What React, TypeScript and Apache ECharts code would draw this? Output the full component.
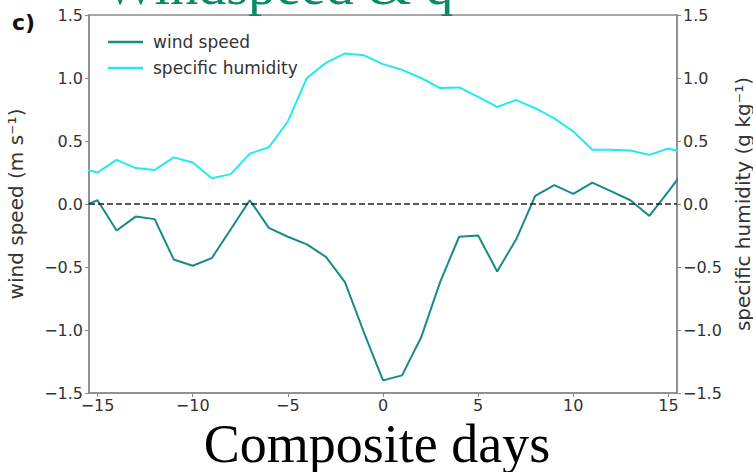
import React, { useEffect, useRef } from "react";
import * as echarts from "echarts";

const days = [-16, -15, -14, -13, -12, -11, -10, -9, -8, -7, -6, -5, -4, -3, -2, -1, 0, 1, 2, 3, 4, 5, 6, 7, 8, 9, 10, 11, 12, 13, 14, 15, 16];
const windSpeed = [-0.03, 0.03, -0.21, -0.1, -0.12, -0.44, -0.49, -0.43, -0.2, 0.03, -0.19, -0.26, -0.32, -0.42, -0.62, -1.02, -1.4, -1.36, -1.06, -0.62, -0.26, -0.25, -0.535, -0.28, 0.065, 0.15, 0.08, 0.17, 0.1, 0.03, -0.095, 0.1, 0.3];
const specificHumidity = [0.29, 0.25, 0.35, 0.285, 0.27, 0.37, 0.33, 0.205, 0.237, 0.4, 0.45, 0.655, 1.0, 1.12, 1.195, 1.18, 1.11, 1.065, 1.0, 0.92, 0.925, 0.85, 0.77, 0.825, 0.76, 0.68, 0.575, 0.43, 0.43, 0.425, 0.39, 0.44, 0.4];
const xTicks = [-15, -10, -5, 0, 5, 10, 15];

const fmt = (v: number) => (v < 0 ? "\u2212" : "") + Math.abs(v).toFixed(1);
const fmtInt = (v: number) => (v < 0 ? "\u2212" : "") + Math.abs(v).toString();

export default function App() {
  const ref = useRef<HTMLDivElement>(null);
  useEffect(() => {
    if (!ref.current) return;
    const chart = echarts.init(ref.current, undefined, { renderer: "svg" });
    const font = "DejaVu Sans";
    const axisCommon = {
      min: -1.5,
      max: 1.5,
      interval: 0.5,
      axisLine: { show: true, onZero: false, lineStyle: { color: "#8a8a8a", width: 1.5 } },
      axisTick: { show: true, length: 4, lineStyle: { color: "#8a8a8a", width: 1 } },
      splitLine: { show: false },
      nameLocation: "middle" as const,
      nameRotate: 90,
      nameTextStyle: { fontFamily: font, fontSize: 20, color: "#333" },
    };
    chart.setOption({
      animation: false,
      grid: {
        left: 89,
        right: 76,
        top: 15,
        bottom: 79,
        containLabel: false,
        outerBoundsMode: "none",
        show: true,
        borderColor: "#8a8a8a",
        borderWidth: 1.5,
      },
      legend: {
        orient: "vertical",
        left: 103,
        top: 28,
        itemWidth: 35,
        itemHeight: 2.5,
        itemGap: 8,
        icon: "rect",
        textStyle: { fontFamily: font, fontSize: 17, color: "#333", lineHeight: 18, padding: [0, 0, 0, 5] },
        data: ["wind speed", "specific humidity"],
      },
      xAxis: {
        type: "value",
        min: -15.45,
        max: 15.45,
        axisLine: { show: true, onZero: false, lineStyle: { color: "#8a8a8a", width: 1.5 } },
        axisTick: { show: true, length: 4, customValues: xTicks, lineStyle: { color: "#8a8a8a" } },
        axisLabel: {
          customValues: xTicks,
          formatter: (v: number) => fmtInt(v),
          fontFamily: font,
          fontSize: 16,
          color: "#333",
          margin: 4,
        },
        splitLine: { show: false },
      },
      yAxis: [
        {
          type: "value",
          position: "left",
          ...axisCommon,
          name: "wind speed (m s\u207B\u00B9)",
          nameGap: 63,
          axisLabel: { formatter: (v: number) => fmt(v), fontFamily: font, fontSize: 16, color: "#333", margin: 6 },
        },
        {
          type: "value",
          position: "right",
          ...axisCommon,
          name: "specific humidity (g kg\u207B\u00B9)",
          nameGap: 55,
          axisLabel: { formatter: (v: number) => fmt(v), fontFamily: font, fontSize: 16, color: "#333", margin: 6 },
        },
      ],
      series: [
        {
          name: "wind speed",
          type: "line",
          yAxisIndex: 0,
          data: days.map((d, i) => [d, windSpeed[i]]),
          symbol: "none",
          lineStyle: { color: "#178a8a", width: 2 },
          itemStyle: { color: "#178a8a" },
          z: 3,
          markLine: {
            silent: true,
            symbol: "none",
            label: { show: false },
            lineStyle: { color: "#222", width: 1.5, type: [6, 3] },
            data: [{ yAxis: 0 }],
          },
        },
        {
          name: "specific humidity",
          type: "line",
          yAxisIndex: 1,
          data: days.map((d, i) => [d, specificHumidity[i]]),
          symbol: "none",
          lineStyle: { color: "#22eaf0", width: 2 },
          itemStyle: { color: "#22eaf0" },
          z: 3,
        },
      ],
      graphic: [
        {
          type: "text",
          left: 12,
          top: 11,
          style: { text: "c)", font: 'bold 22px "DejaVu Sans"', fill: "#111" },
        },
        {
          type: "text",
          x: 104,
          y: -15,
          style: {
            text: "Windspeed & q",
            font: '56px "Liberation Serif"',
            fill: "#0a8a66",
            verticalAlign: "middle",
          },
        },
        {
          type: "text",
          x: 377,
          y: 444,
          style: {
            text: "Composite days",
            font: '54px "Liberation Serif"',
            fill: "#000",
            align: "center",
            verticalAlign: "middle",
          },
        },
      ],
    });
    return () => chart.dispose();
  }, []);
  return <div ref={ref} style={{ width: 753, height: 472, position: "absolute", left: 0, top: 0, background: "#fff" }} />;
}
